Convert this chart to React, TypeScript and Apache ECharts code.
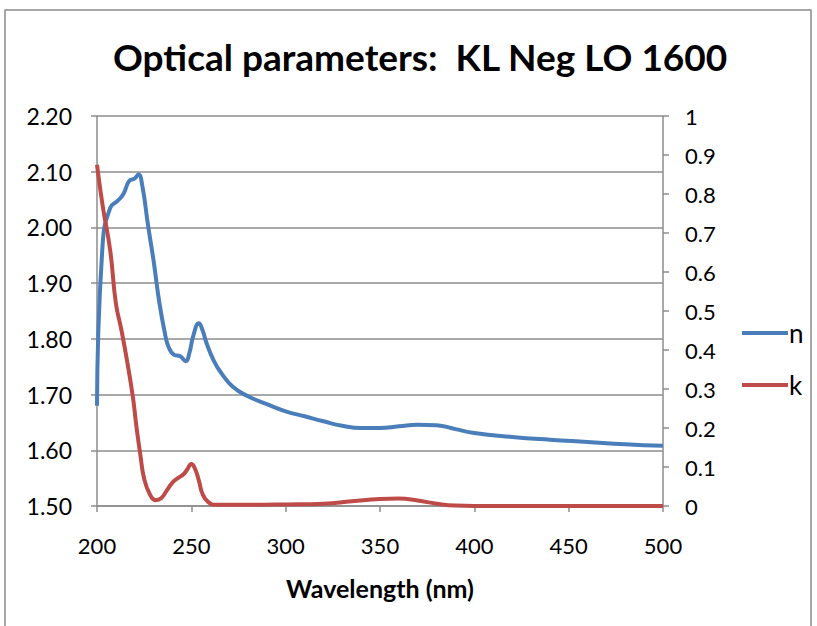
import React, { useEffect, useRef } from "react";
import * as echarts from "echarts";

const titleText = "Optical parameters:  KL Neg LO 1600";
const xAxisName = "Wavelength (nm)";
const seriesNames = ["n", "k"];

const nWavelength = [200, 203, 207, 211, 214, 217, 220, 222, 224, 227, 230, 233, 236, 238, 241, 244, 247, 249, 251, 254, 256, 258, 262, 266, 272, 280, 290, 300, 310, 320, 330, 340, 350, 360, 370, 380, 390, 400, 420, 440, 460, 480, 500];
const nValues = [1.68, 1.97, 2.035, 2.048, 2.06, 2.083, 2.088, 2.095, 2.075, 2.005, 1.94, 1.866, 1.81, 1.785, 1.771, 1.769, 1.76, 1.775, 1.805, 1.828, 1.815, 1.793, 1.76, 1.738, 1.714, 1.697, 1.683, 1.67, 1.661, 1.652, 1.644, 1.64, 1.64, 1.643, 1.646, 1.645, 1.638, 1.631, 1.624, 1.619, 1.615, 1.611, 1.608];

const kWavelength = [200, 203, 207, 210, 213, 216, 219, 221, 223, 225, 228, 231, 234, 237, 240, 243, 246, 248, 250, 252, 254, 256, 259, 263, 280, 300, 320, 335, 350, 360, 370, 380, 390, 400, 450, 500];
const kValues = [0.875, 0.77, 0.655, 0.52, 0.45, 0.37, 0.28, 0.2, 0.13, 0.07, 0.03, 0.015, 0.02, 0.04, 0.06, 0.072, 0.082, 0.095, 0.108, 0.095, 0.065, 0.03, 0.01, 0.003, 0.003, 0.004, 0.006, 0.012, 0.018, 0.019, 0.014, 0.006, 0.001, 0, 0, 0];

const FONT = "Lato, 'Open Sans', sans-serif";
const AXIS_COLOR = "#8c8c8c";

export default function App() {
  const ref = useRef<HTMLDivElement>(null);
  useEffect(() => {
    if (!ref.current) return;
    const chart = echarts.init(ref.current, null, { renderer: "svg" });
    chart.setOption({
      animation: false,
      backgroundColor: "#fff",
      graphic: [
        {
          type: "rect",
          shape: { x: 5, y: 10, width: 806, height: 640 },
          style: { fill: "none", stroke: "#8a8a8a", lineWidth: 1.5 },
          silent: true,
        },
      ],
      title: {
        text: titleText,
        left: 108,
        top: 33,
        textStyle: { fontFamily: FONT, fontSize: 37, fontWeight: "bold", color: "#000" },
      },
      legend: {
        orient: "vertical",
        left: 737,
        top: 315,
        itemGap: 26,
        itemWidth: 46,
        itemHeight: 4,
        icon: "rect",
        textStyle: { fontFamily: FONT, fontSize: 26, color: "#000", padding: [0, 0, 0, -4] },
        data: seriesNames,
      },
      grid: { left: 97, right: 154, top: 116, bottom: 120 },
      xAxis: {
        type: "value",
        min: 200,
        max: 500,
        interval: 50,
        name: xAxisName,
        nameLocation: "middle",
        nameGap: 69,
        nameTextStyle: { fontFamily: FONT, fontSize: 25, fontWeight: "bold", color: "#000" },
        axisLine: { lineStyle: { color: AXIS_COLOR, width: 1.5 } },
        axisTick: { show: true, length: 6, lineStyle: { color: AXIS_COLOR, width: 1.5 } },
        axisLabel: { fontFamily: FONT, fontSize: 22, color: "#000", margin: 28 },
        splitLine: { show: false },
      },
      yAxis: [
        {
          type: "value",
          min: 1.5,
          max: 2.2,
          interval: 0.1,
          position: "left",
          axisLine: { show: true, lineStyle: { color: AXIS_COLOR, width: 1.5 } },
          axisTick: { show: true, length: 6, lineStyle: { color: AXIS_COLOR, width: 1.5 } },
          axisLabel: {
            fontFamily: FONT,
            fontSize: 23,
            color: "#000",
            margin: 25,
            formatter: (v: number) => v.toFixed(2),
          },
          splitLine: { show: true, lineStyle: { color: AXIS_COLOR, width: 1.5 } },
        },
        {
          type: "value",
          min: 0,
          max: 1,
          interval: 0.1,
          position: "right",
          axisLine: { show: true, lineStyle: { color: AXIS_COLOR, width: 1.5 } },
          axisTick: { show: true, length: 6, lineStyle: { color: AXIS_COLOR, width: 1.5 } },
          axisLabel: {
            fontFamily: FONT,
            fontSize: 22,
            color: "#000",
            margin: 22,
            formatter: (v: number) => String(parseFloat(v.toFixed(1))),
          },
          splitLine: { show: false },
        },
      ],
      series: [
        {
          name: seriesNames[0],
          type: "line",
          yAxisIndex: 0,
          data: nWavelength.map((x, i) => [x, nValues[i]]),
          showSymbol: false,
          symbol: "none",
          smooth: 0.5,
          lineStyle: { color: "#4a7ebb", width: 4 },
          itemStyle: { color: "#4a7ebb" },
        },
        {
          name: seriesNames[1],
          type: "line",
          yAxisIndex: 1,
          data: kWavelength.map((x, i) => [x, kValues[i]]),
          showSymbol: false,
          symbol: "none",
          smooth: 0.5,
          lineStyle: { color: "#be4b48", width: 4 },
          itemStyle: { color: "#be4b48" },
        },
      ],
    });
    return () => chart.dispose();
  }, []);
  return <div ref={ref} style={{ width: 817, height: 626, position: "absolute", left: 0, top: 0 }} />;
}
